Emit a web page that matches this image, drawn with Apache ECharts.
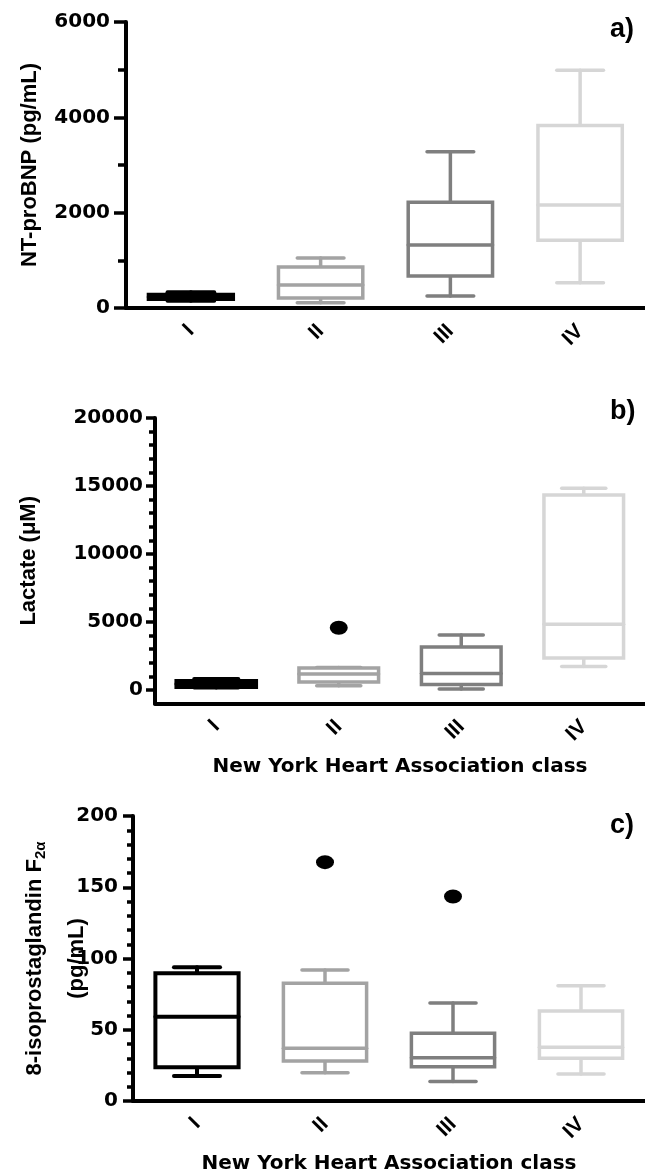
<!DOCTYPE html>
<html>
<head>
<meta charset="utf-8">
<title>NYHA class biomarkers</title>
<script src="https://cdn.jsdelivr.net/npm/echarts@6/dist/echarts.min.js"></script>
<style>
  html, body { margin: 0; padding: 0; background: #fff; }
  #chart { width: 645px; height: 1175px; }
</style>
</head>
<body>
<div id="chart"></div>
<script>
const classes = ['I', 'II', 'III', 'IV']

// each box: [low whisker, Q1, median, Q3, high whisker], one per NYHA class
const ntprobnpBoxes = [
  [150, 190, 230, 280, 330],
  [110, 210, 480, 860, 1050],
  [250, 670, 1320, 2220, 3280],
  [530, 1420, 2160, 3830, 4990],
]
const lactateBoxes = [
  [180, 220, 450, 660, 800],
  [320, 590, 1180, 1620, 1650],
  [70, 400, 1220, 3160, 4040],
  [1720, 2350, 4830, 14340, 14830],
]
const lactateOutliers = [[1, 4580]]   // [class index, value]
const isoBoxes = [
  [17.6, 23.7, 59.2, 89.7, 93.9],
  [19.9, 28.1, 37, 82.6, 92],
  [13.6, 24.1, 30.4, 47.5, 68.8],
  [19, 30, 37.7, 63.2, 80.8],
]
const isoOutliers = [[1, 167.6], [2, 143.5]]

// lactate axis runs a little below 0, so its ticks are listed
const lactateTicks = [0, 5000, 10000, 15000, 20000]
const lactateMinorTicks = [1000, 2000, 3000, 4000, 6000, 7000, 8000, 9000,
  11000, 12000, 13000, 14000, 16000, 17000, 18000, 19000]

const boxColors = ['#000000', '#a3a3a3', '#7f7f7f', '#d6d6d6']
const tickFont = { color: '#000', fontSize: 20, fontWeight: 'bold', fontFamily: 'DejaVu Sans' }
const nameFont = { color: '#000', fontSize: 22, fontWeight: 'bold', fontFamily: 'Liberation Sans' }
const blackLine = { color: '#000', width: 3.5 }
const plain = v => String(v)

function boxItem(params, api) {
  const i = api.value(0)
  const [lo, q1, md, q3, hi] = [1, 2, 3, 4, 5].map(d => api.coord([i, api.value(d)]))
  const band = api.size([1, 0])[0]
  const half = band * 0.325, cap = band * 0.18
  const x = lo[0]
  const color = boxColors[i]
  const lw = i === 0 ? 4 : 3.5
  const seg = (x1, y1, x2, y2) => ({
    type: 'line', shape: { x1, y1, x2, y2 },
    style: { stroke: color, lineWidth: lw, lineCap: 'round' },
  })
  return {
    type: 'group',
    children: [
      seg(x, hi[1], x, q3[1]),
      seg(x, q1[1], x, lo[1]),
      seg(x - cap, hi[1], x + cap, hi[1]),
      seg(x - cap, lo[1], x + cap, lo[1]),
      { type: 'rect', shape: { x: x - half, y: q3[1], width: half * 2, height: q1[1] - q3[1] },
        style: { stroke: color, lineWidth: lw, fill: '#fff' } },
      seg(x - half, md[1], x + half, md[1]),
    ],
  }
}

function catAxis(gridIndex, withName) {
  return {
    type: 'category', gridIndex, data: classes,
    axisLine: { onZero: false, lineStyle: { color: '#000', width: 4 } },
    axisTick: { alignWithLabel: true, length: 10, lineStyle: blackLine },
    axisLabel: { rotate: 45, margin: 20, interval: 0, ...tickFont, fontSize: 21, fontFamily: 'Liberation Sans' },
    name: withName ? 'New York Heart Association class' : '',
    nameLocation: 'middle', nameGap: 53, nameMoveOverlap: false,
    nameTextStyle: { ...tickFont },
  }
}

function valAxis(gridIndex, opts) {
  return Object.assign({
    type: 'value', gridIndex, position: 'left',
    axisLine: { show: true, lineStyle: { color: '#000', width: 4 } },
    axisTick: { show: true, length: 11, lineStyle: blackLine },
    minorTick: { show: true, length: 7, lineStyle: blackLine },
    splitLine: { show: false },
    axisLabel: { margin: 15, formatter: plain, ...tickFont },
    nameLocation: 'middle', nameRotate: 90, nameMoveOverlap: false,
    nameTextStyle: nameFont,
  }, opts)
}

const boxSeries = (boxes, xi, yi) => ({
  type: 'custom', xAxisIndex: xi, yAxisIndex: yi,
  renderItem: boxItem,
  encode: { x: 0, y: [1, 2, 3, 4, 5] },
  data: boxes.map((b, i) => [i, ...b]),
})
const outlierSeries = (pts, xi, yi) => ({
  type: 'scatter', xAxisIndex: xi, yAxisIndex: yi,
  symbol: 'circle', symbolSize: [18, 14],
  itemStyle: { color: '#000', opacity: 1 },
  data: pts,
})

const chart = echarts.init(document.getElementById('chart'))
const letter = (text, top) => ({
  text, left: 610, top, padding: 0,
  textStyle: { color: '#000', fontSize: 27, fontWeight: 'bold', fontFamily: 'Liberation Sans' },
})

chart.setOption({
  animation: false,
  title: [letter('a)', 16), letter('b)', 398), letter('c)', 812)],
  grid: [
    { left: 126, top: 22, width: 527, height: 286 },
    { left: 155, top: 418, width: 496, height: 285.6 },
    { left: 133, top: 816, width: 517, height: 285 },
  ],
  xAxis: [catAxis(0, false), catAxis(1, true), catAxis(2, true)],
  yAxis: [
    valAxis(0, {
      min: 0, max: 6000, interval: 2000,
      axisTick: { show: true, length: 12, lineStyle: blackLine },
      minorTick: { show: true, splitNumber: 2, length: 8, lineStyle: blackLine },
      axisLabel: { margin: 16, formatter: plain, ...tickFont },
      name: 'NT-proBNP (pg/mL)', nameGap: 85,
    }),
    valAxis(1, {
      min: -1000, max: 20000,
      axisTick: { show: true, length: 9, customValues: lactateTicks, lineStyle: blackLine },
      minorTick: { show: false },
      axisLabel: { margin: 12, customValues: lactateTicks, formatter: plain, ...tickFont },
      name: 'Lactate (μM)', nameGap: 115,
    }),
    valAxis(1, {
      min: -1000, max: 20000,
      axisLine: { show: false },
      axisTick: { show: true, length: 6, customValues: lactateMinorTicks, lineStyle: blackLine },
      minorTick: { show: false },
      axisLabel: { show: false },
    }),
    valAxis(2, {
      min: 0, max: 200, interval: 50,
      axisTick: { show: true, length: 10, lineStyle: blackLine },
      minorTick: { show: true, splitNumber: 5, length: 6, lineStyle: blackLine },
      name: '8-isoprostaglandin F{sub|2α}', nameGap: 85,
      nameTextStyle: {
        ...nameFont, lineHeight: 26,
        rich: { sub: { ...nameFont, fontSize: 15, lineHeight: 14, verticalAlign: 'bottom' } },
      },
    }),
    valAxis(2, {
      min: 0, max: 200,
      axisLine: { show: false }, axisTick: { show: false },
      minorTick: { show: false }, axisLabel: { show: false },
      name: '(pg/mL)', nameGap: 45,
    }),
  ],
  series: [
    boxSeries(ntprobnpBoxes, 0, 0),
    boxSeries(lactateBoxes, 1, 1),
    outlierSeries(lactateOutliers, 1, 1),
    boxSeries(isoBoxes, 2, 3),
    outlierSeries(isoOutliers, 2, 3),
  ],
})
</script>
</body>
</html>
